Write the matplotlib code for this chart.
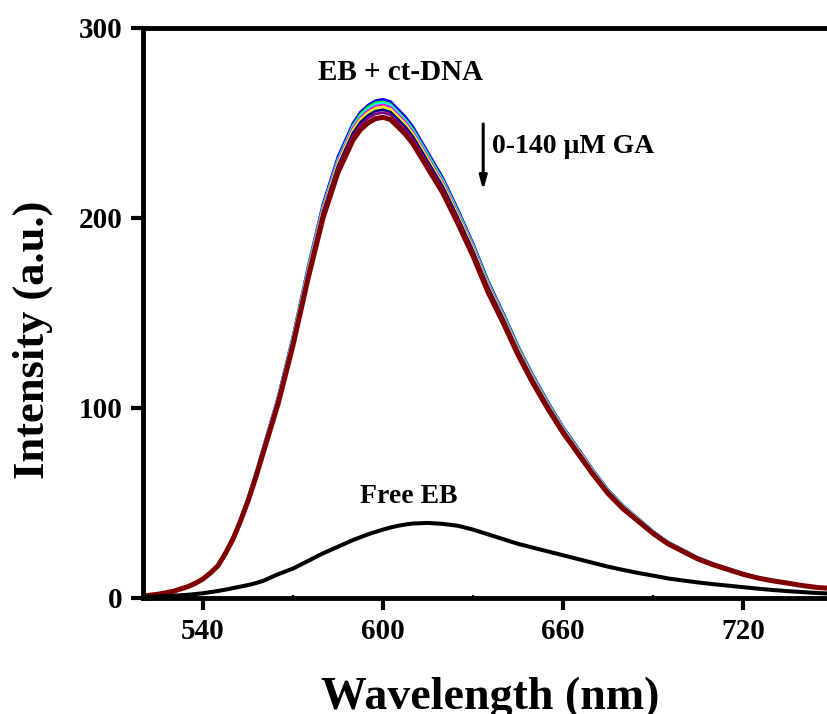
import matplotlib
matplotlib.use("Agg")
import matplotlib.pyplot as plt
from matplotlib.ticker import MultipleLocator

plt.rcParams['font.family'] = ['Liberation Serif', 'DejaVu Serif']
plt.rcParams['font.weight'] = 'bold'

# Emission wavelengths (nm); denser where the spectra bend sharply
wavelength = [520, 525, 530, 535, 537.5, 540, 542.5, 545, 547.5, 550, 552.5, 555, 557.5,
              560, 565, 570, 575, 580, 585, 590, 592.5, 595, 597.5, 600, 602.5, 605,
              607.5, 610, 615, 620, 625, 630, 635, 640, 645, 650, 655, 660, 665, 670,
              675, 680, 685, 690, 695, 700, 705, 710, 715, 720, 725, 730, 735, 740,
              745, 750]

# Free ethidium bromide
free_eb = [0.5, 0.8, 1.2, 1.7, 2.1, 2.5, 3.1, 3.7, 4.4, 5.2, 6.0, 6.8, 7.8,
           9.0, 12.5, 15.5, 19.5, 23.5, 27.0, 30.5, 32.0, 33.5, 34.8, 36.0, 37.1, 38.0,
           38.7, 39.2, 39.5, 39.0, 38.0, 36.0, 33.5, 31.0, 28.5, 26.5, 24.5, 22.5, 20.5,
           18.5, 16.5, 14.8, 13.2, 11.8, 10.3, 9.2, 8.2, 7.3, 6.5, 5.7, 4.9, 4.2, 3.6,
           3.1, 2.6, 2.3]

# EB + ct-DNA spectra with increasing GA (0 -> 140 uM)
dna_ga_0 = [1.0, 2.1, 3.6, 6.2, 8.1, 10.4, 13.7, 17.6, 24.4, 32.1, 42.0, 52.9, 65.4,
            78.9, 105.8, 138.0, 174.3, 207.5, 232.4, 250.0, 255.8, 259.4, 261.8, 262.5,
            261.3, 257.3, 253.2, 248.0, 234.5, 221.0, 204.4, 186.7, 167.1, 150.4, 132.8,
            117.3, 103.2, 90.2, 78.9, 67.5, 57.1, 48.8, 42.0, 35.2, 29.5, 25.5, 21.3,
            18.2, 15.6, 13.0, 10.9, 9.3, 8.1, 6.7, 5.7, 5.2]
dna_ga_20 = [1.0, 2.1, 3.6, 6.2, 8.1, 10.4, 13.6, 17.5, 24.2, 31.9, 41.7, 52.5, 64.9,
             78.3, 105.0, 137.0, 173.0, 205.9, 230.6, 248.6, 254.6, 258.4, 260.6, 261.0,
             259.8, 255.8, 251.7, 246.5, 233.2, 219.8, 203.3, 185.7, 166.2, 149.6, 132.1,
             116.6, 102.6, 89.7, 78.4, 67.1, 56.8, 48.5, 41.8, 35.0, 29.4, 25.3, 21.2,
             18.1, 15.5, 12.9, 10.8, 9.3, 8.1, 6.7, 5.7, 5.2]
dna_ga_40 = [1.0, 2.1, 3.6, 6.2, 8.0, 10.3, 13.6, 17.5, 24.2, 31.9, 41.7, 52.5, 64.9,
             78.3, 105.0, 137.0, 173.0, 205.9, 230.6, 248.1, 253.8, 257.4, 259.8, 260.5,
             259.3, 255.4, 251.2, 246.1, 232.7, 219.3, 202.9, 185.3, 165.8, 149.3, 131.8,
             116.4, 102.4, 89.6, 78.3, 67.0, 56.7, 48.4, 41.7, 35.0, 29.3, 25.3, 21.1,
             18.0, 15.5, 12.9, 10.8, 9.3, 8.0, 6.7, 5.7, 5.2]
dna_ga_60 = [1.0, 2.1, 3.6, 6.2, 8.0, 10.3, 13.5, 17.4, 24.1, 31.8, 41.5, 52.3, 64.6,
             78.0, 104.6, 136.4, 172.3, 205.1, 229.8, 247.2, 252.8, 256.4, 258.8, 259.5,
             258.3, 254.4, 250.3, 245.1, 231.8, 218.5, 202.1, 184.6, 165.2, 148.7, 131.3,
             115.9, 102.0, 89.2, 78.0, 66.7, 56.4, 48.2, 41.5, 34.8, 29.2, 25.2, 21.0,
             18.0, 15.4, 12.8, 10.8, 9.2, 8.0, 6.7, 5.6, 5.1]
dna_ga_80 = [1.0, 2.0, 3.6, 6.1, 8.0, 10.2, 13.5, 17.4, 24.0, 31.7, 41.4, 52.1, 64.4,
             77.7, 104.2, 135.9, 171.6, 204.3, 228.9, 246.2, 251.9, 255.4, 257.8, 258.5,
             257.3, 253.4, 249.3, 244.2, 230.9, 217.6, 201.3, 183.9, 164.5, 148.1, 130.8,
             115.5, 101.6, 88.9, 77.7, 66.4, 56.2, 48.0, 41.4, 34.7, 29.1, 25.1, 20.9,
             17.9, 15.3, 12.8, 10.7, 9.2, 8.0, 6.6, 5.6, 5.1]
dna_ga_100 = [1.0, 2.0, 3.6, 6.1, 7.9, 10.2, 13.4, 17.3, 23.9, 31.5, 41.1, 51.8, 64.0,
              77.2, 103.6, 135.1, 170.6, 203.2, 227.5, 244.8, 250.4, 254.0, 256.3, 257.0,
              255.8, 251.9, 247.9, 242.8, 229.6, 216.4, 200.1, 182.8, 163.6, 147.3, 130.0,
              114.8, 101.1, 88.4, 77.2, 66.0, 55.9, 47.8, 41.1, 34.5, 28.9, 24.9, 20.8,
              17.8, 15.2, 12.7, 10.7, 9.1, 7.9, 6.6, 5.6, 5.1]
dna_ga_120 = [1.0, 2.0, 3.5, 6.1, 7.9, 10.1, 13.3, 17.2, 23.7, 31.3, 40.9, 51.5, 63.6,
              76.8, 103.0, 134.3, 169.7, 202.0, 226.2, 243.4, 248.9, 252.5, 254.8, 255.5,
              254.3, 250.5, 246.4, 241.4, 228.2, 215.1, 199.0, 181.8, 162.6, 146.4, 129.3,
              114.1, 100.5, 87.9, 76.8, 65.7, 55.6, 47.5, 40.9, 34.3, 28.8, 24.8, 20.7,
              17.7, 15.2, 12.6, 10.6, 9.1, 7.9, 6.6, 5.6, 5.0]
dna_ga_140 = [1.0, 2.0, 3.5, 6.0, 7.8, 10.0, 13.2, 17.0, 23.5, 31.0, 40.5, 51.0, 63.0,
              76.0, 102.0, 133.0, 168.0, 200.0, 224.0, 241.0, 246.5, 250.0, 252.3, 253.0,
              251.8, 248.0, 244.0, 239.0, 226.0, 213.0, 197.0, 180.0, 161.0, 145.0, 128.0,
              113.0, 99.5, 87.0, 76.0, 65.0, 55.0, 47.0, 40.5, 34.0, 28.5, 24.5, 20.5,
              17.5, 15.0, 12.5, 10.5, 9.0, 7.8, 6.5, 5.5, 5.0]

dna_series = [dna_ga_0, dna_ga_20, dna_ga_40, dna_ga_60, dna_ga_80,
              dna_ga_100, dna_ga_120, dna_ga_140]
dna_colors = ['#0000FF', '#00FF00', '#00FFFF', '#FF00FF', '#FFFF00',
              '#000080', '#800080', '#800000']
dna_widths = [1.9, 1.9, 1.9, 1.9, 1.9, 1.9, 1.9, 3.6]

x_ticks = [540, 600, 660, 720]
y_ticks = [0, 100, 200, 300]

W, H = 828, 714
fig = plt.figure(figsize=(W / 100, H / 100), dpi=100)
ax = fig.add_axes([143 / W, 116 / H, 685 / W, 570 / H])

for series, color, lw in zip(dna_series, dna_colors, dna_widths):
    ax.plot(wavelength, series, color=color, lw=lw,
            solid_joinstyle='round', solid_capstyle='round')
ax.plot(wavelength, free_eb, color='black', lw=2.9, solid_joinstyle='round')

ax.set_xlim(520, 520 + 685 / 3)
ax.set_ylim(0, 300)
ax.set_xticks(x_ticks)
ax.set_yticks(y_ticks)
ax.xaxis.set_minor_locator(MultipleLocator(30))

for side in ['left', 'bottom', 'top']:
    ax.spines[side].set_linewidth(3.5)
ax.spines['right'].set_visible(False)

ax.tick_params(axis='both', which='major', direction='out', length=8.5, width=3,
               labelsize=21, pad=6)
ax.tick_params(axis='x', which='minor', direction='in', length=2, width=1.5)
ax.tick_params(top=False, right=False, which='both')
for lbl in ax.get_xticklabels() + ax.get_yticklabels():
    lbl.set_fontweight('bold')

fig.text(490 / W, 1 - 709 / H, 'Wavelength (nm)', ha='center', va='baseline',
         fontsize=33, fontweight='bold')
fig.text(33 / W, 1 - 340 / H, 'Intensity (a.u.)', ha='center', va='center',
         rotation=90, fontsize=32, fontweight='bold')

ax.text(578.3, 272.6, 'EB + ct-DNA', ha='left', va='baseline',
        fontsize=21, fontweight='bold')
ax.text(636.3, 234, '0-140 \u00b5M GA', ha='left', va='baseline',
        fontsize=20, fontweight='bold')
ax.text(592.3, 49.8, 'Free EB', ha='left', va='baseline',
        fontsize=20, fontweight='bold')
ax.annotate('', xy=(633.4, 214.5), xytext=(633.4, 249.5),
            arrowprops=dict(arrowstyle='-|>,head_length=0.8,head_width=0.22',
                            color='black', lw=2.2, shrinkA=0, shrinkB=0))

fig.savefig('out.png', dpi=100)
